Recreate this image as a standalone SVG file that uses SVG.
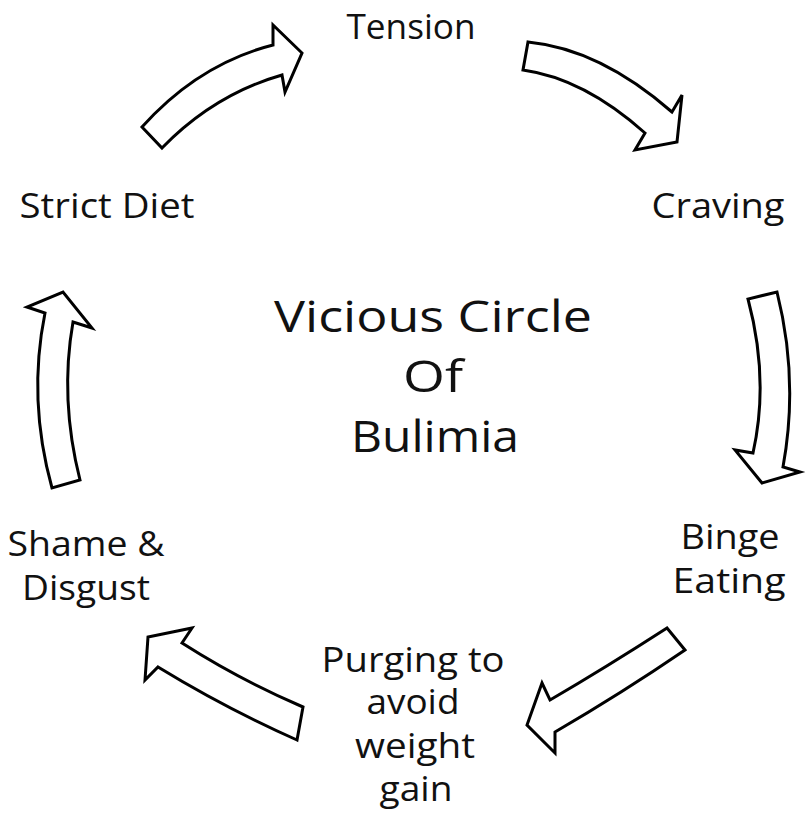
<svg xmlns="http://www.w3.org/2000/svg" width="808" height="822" viewBox="0 0 808 822">
<style>
.bg{fill:#ffffff}
.arrow{fill:#ffffff;stroke:#000000;stroke-width:3;stroke-linejoin:miter}
.lbl{font-family:"Open Sans","DejaVu Sans",sans-serif;font-size:34px;fill:#111111;text-anchor:middle}
.title{font-family:"Open Sans","DejaVu Sans",sans-serif;font-size:44px;fill:#111111;text-anchor:middle}
</style>
<rect class="bg" x="0" y="0" width="808" height="822"/>
<g id="connectors">
  <path id="a-diet-tension" class="arrow" d="M142,127 Q198.5,64 273,45 L273,25 L302,53 L285,92 L282,75 Q214,94.5 162,148 Z"/>
  <path id="a-tension-craving" class="arrow" d="M528,42 Q600,49 672,112 L682,95 L677,142 L635,150 L645,133 Q584,78.5 523,70 Z"/>
  <path id="a-craving-binge" class="arrow" d="M748,299 Q769.5,379.5 753,453 L735,450 L762,483 L800,472 L783,467 Q799,379.5 777,292 Z"/>
  <path id="a-binge-purging" class="arrow" d="M667,628 Q605,668 550,700 L542,683 L527,725 L555,753 L555,732 Q622,693 685,650 Z"/>
  <path id="a-purging-shame" class="arrow" d="M303,707 Q240,680 182,643 L192,628 L148,637 L145,680 L158,667 Q225,708 297,740 Z"/>
  <path id="a-shame-diet" class="arrow" d="M52,488 Q27.5,399.5 45,313 L27,307 L63,292 L92,328 L73,322 Q59.5,399 80,480 Z"/>
</g>
<g id="node-tension"><text class="lbl" x="411" y="39" textLength="129" lengthAdjust="spacingAndGlyphs">Tension</text></g>
<g id="node-craving"><text class="lbl" x="718" y="218" textLength="133" lengthAdjust="spacingAndGlyphs">Craving</text></g>
<g id="node-binge">
  <text class="lbl" x="730" y="549" textLength="99" lengthAdjust="spacingAndGlyphs">Binge</text>
  <text class="lbl" x="729" y="593" textLength="113" lengthAdjust="spacingAndGlyphs">Eating</text>
</g>
<g id="node-purging">
  <text class="lbl" x="413" y="672" textLength="183" lengthAdjust="spacingAndGlyphs">Purging to</text>
  <text class="lbl" x="413" y="714" textLength="93" lengthAdjust="spacingAndGlyphs">avoid</text>
  <text class="lbl" x="415" y="758" textLength="120" lengthAdjust="spacingAndGlyphs">weight</text>
  <text class="lbl" x="416" y="801" textLength="73" lengthAdjust="spacingAndGlyphs">gain</text>
</g>
<g id="node-shame">
  <text class="lbl" x="86" y="556" textLength="157" lengthAdjust="spacingAndGlyphs">Shame &amp;</text>
  <text class="lbl" x="86" y="600" textLength="128" lengthAdjust="spacingAndGlyphs">Disgust</text>
</g>
<g id="node-diet"><text class="lbl" x="107" y="218" textLength="175" lengthAdjust="spacingAndGlyphs">Strict Diet</text></g>
<g id="title">
  <text class="title" x="433" y="332" textLength="318" lengthAdjust="spacingAndGlyphs">Vicious Circle</text>
  <text class="title" x="433" y="392" textLength="60" lengthAdjust="spacingAndGlyphs">Of</text>
  <text class="title" x="435" y="452" textLength="168" lengthAdjust="spacingAndGlyphs">Bulimia</text>
</g>
</svg>
